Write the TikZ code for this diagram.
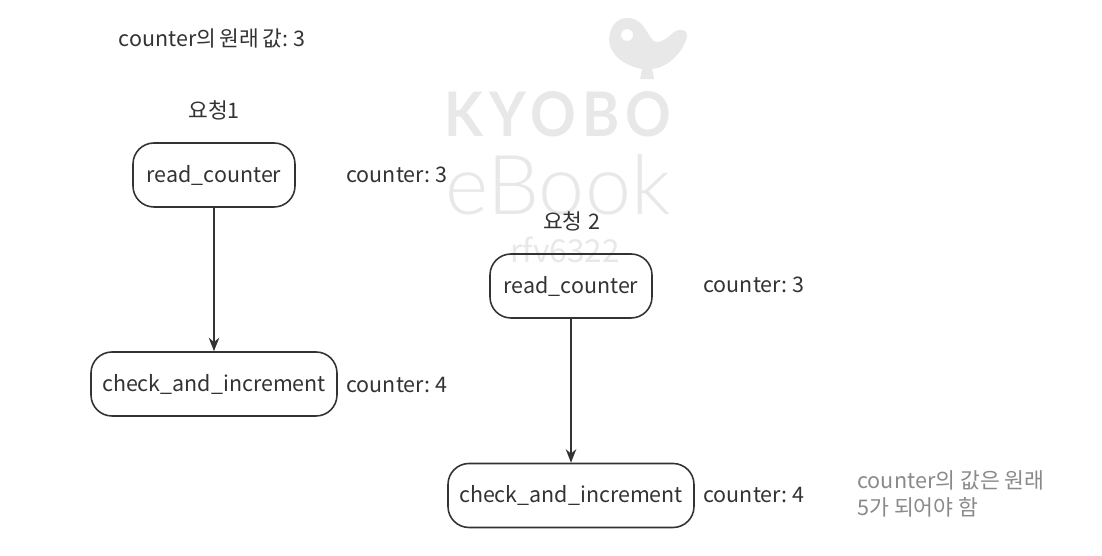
\documentclass[tikz,border=0pt]{standalone}
\usepackage{fontspec}
\usetikzlibrary{arrows.meta}
\setmainfont{Noto Sans CJK KR}
\newfontfamily\logobold[LetterSpace=11]{Lato}
\newfontfamily\logothin{Lato Light}
\newcommand{\labelfont}{\fontsize{12.2}{15}\selectfont\spaceskip=.16em\relax}
\definecolor{inkgray}{HTML}{333333}
\definecolor{notegray}{HTML}{8A8A8A}
\definecolor{markgray}{HTML}{E8E8E8}
\tikzset{
  funcbox/.style={draw=inkgray, line width=.9pt, rounded corners=.42cm, minimum height=1.28cm, text=inkgray, font=\labelfont, inner sep=0pt},
  shortbox/.style={funcbox, minimum width=3.24cm},
  longbox/.style={funcbox, minimum width=4.92cm},
  plaintext/.style={text=inkgray, font=\labelfont, inner sep=0pt},
  flowarrow/.style={line width=.9pt, inkgray, -{Stealth[length=.27cm, width=.21cm]}},
}

\begin{document}
\begin{tikzpicture}
\useasboundingbox (0,0) rectangle (22.04,11.12);
\fill[white] (0,0) rectangle (22.04,11.12);

\begin{scope}[x=.02cm, y=-.02cm, shift={(0cm,11.12cm)}]
\fill[markgray, even odd rule] (627,18) .. controls (616,18) and (609,28) .. (609,40)
  .. controls (609,54) and (624,66) .. (642,69) -- (640,79) -- (654,79) -- (652,69)
  .. controls (670,67) and (684,50) .. (687,36)
  .. controls (688,30) and (680,28) .. (674,32)
  .. controls (668,37) and (662,43) .. (656,42)
  .. controls (648,41) and (646,18) .. (627,18)
  (627,35) circle (6);
\end{scope}

\node[text=markgray, xscale=.92, font=\logobold\bfseries\fontsize{35}{40}\selectfont, inner sep=0pt] (logokyobo) at (11.16,8.84) {KYOBO};
\node[text=markgray, font=\logothin\fontsize{47}{50}\selectfont, inner sep=0pt] (logoebook) at (11.16,7.42) {eBook};
\node[text=markgray, font=\fontsize{18}{20}\selectfont, inner sep=0pt] (logouser) at (11.3,6.12) {rfv6322};

\node[plaintext] (origvalue) at (4.24,10.36) {counter의 원래 값: 3};

\node[plaintext] (req1) at (4.28,8.92) {요청1};
\node[shortbox] (read1) at (4.28,7.62) {read\_counter};
\node[longbox] (check1) at (4.28,3.44) {check\_and\_increment};
\node[plaintext] (val1) at (7.94,7.62) {counter: 3};
\node[plaintext] (val2) at (7.94,3.42) {counter: 4};

\node[plaintext] (req2) at (11.44,6.7) {요청\hspace{.3em}2};
\node[shortbox] (read2) at (11.42,5.4) {read\_counter};
\node[longbox] (check2) at (11.42,1.21) {check\_and\_increment};
\node[plaintext] (val3) at (15.08,5.42) {counter: 3};
\node[plaintext] (val4) at (15.08,1.22) {counter: 4};

\node[plaintext, text=notegray, align=left, anchor=west, font=\fontsize{12.3}{15.3}\selectfont] (note) at (17.14,1.24) {counter의 값은 원래\\5가 되어야 함};

\draw[flowarrow] (read1) -- (check1);
\draw[flowarrow] (read2) -- (check2);

\end{tikzpicture}
\end{document}
